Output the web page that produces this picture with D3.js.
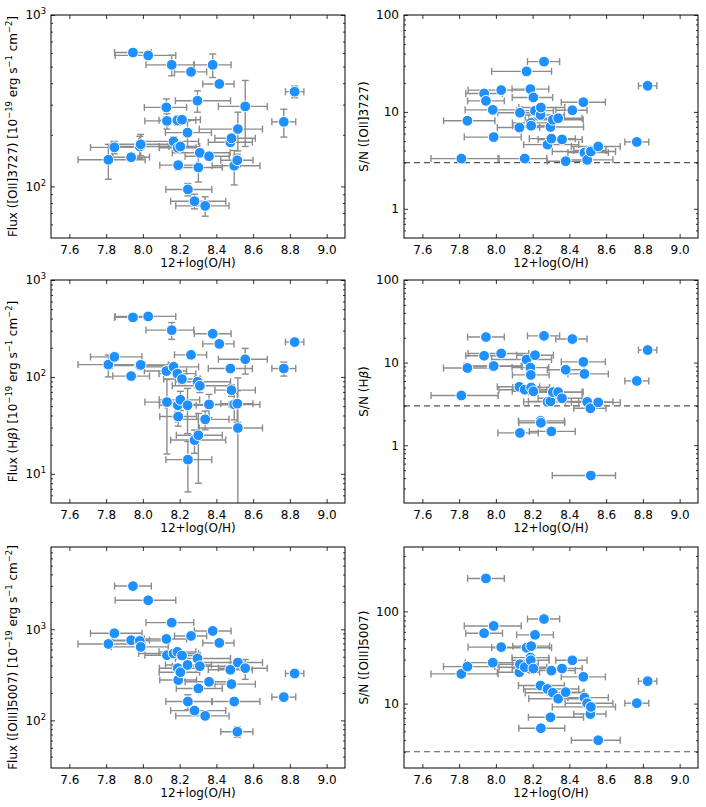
<!DOCTYPE html>
<html>
<head>
<meta charset="utf-8">
<script src="https://cdn.jsdelivr.net/npm/d3@7"></script>
<style>
  body { margin: 0; background: #fff; }
  text { font-family: "DejaVu Sans", sans-serif; }
</style>
</head>
<body>
<div id="chart"></div>
<script>
const svgWidth = 706
const svgHeight = 807

// 12+log(O/H) of each galaxy, with its lower / upper error
const oh      = [7.812, 7.845, 7.936, 7.946, 7.983, 7.988, 8.029, 8.128, 8.131, 8.157, 8.167, 8.188, 8.190, 8.192, 8.204, 8.213, 8.243, 8.245, 8.262, 8.281, 8.297, 8.302, 8.310, 8.339, 8.360, 8.380, 8.416, 8.476, 8.482, 8.497, 8.514, 8.517, 8.557, 8.767, 8.826]
const ohErrLo = [0.165, 0.13, 0.10, 0.10, 0.15, 0.16, 0.18, 0.12, 0.12, 0.14, 0.19, 0.10, 0.10, 0.10, 0.115, 0.10, 0.12, 0.12, 0.09, 0.13, 0.12, 0.12, 0.15, 0.16, 0.13, 0.10, 0.09, 0.12, 0.09, 0.12, 0.09, 0.21, 0.146, 0.065, 0.05]
const ohErrHi = [0.20, 0.15, 0.10, 0.10, 0.16, 0.15, 0.15, 0.11, 0.10, 0.12, 0.136, 0.10, 0.10, 0.10, 0.105, 0.10, 0.13, 0.13, 0.085, 0.17, 0.18, 0.13, 0.165, 0.13, 0.11, 0.10, 0.08, 0.12, 0.13, 0.14, 0.085, 0.134, 0.12, 0.065, 0.05]

// [OII]3727
const fluxOII    = [143, 169, 148, 604, 171, 176, 581, 289, 241, 512, 183, 243, 168, 133, 171, 245, 206, 96, 466, 82, 316, 129, 157, 77, 150, 512, 396, 181, 191, 132, 142, 216, 293, 238, 357]
const fluxOIIErr = [33, 14, 8, 20, 25, 25, 30, 35, 25, 70, 12, 15, 10, 8, 10, 12, 35, 8, 15, 8, 45, 23, 8, 10, 8, 80, 15, 10, 10, 30, 12, 55, 122, 44, 28]
const snOII      = [3.3, 8.1, 15.5, 13.0, 10.5, 5.5, 16.8, 6.9, 9.8, 3.3, 26.2, 17.2, 7.7, 7.2, 14.1, 10.3, 9.3, 11.1, 33, 4.6, 7.0, 5.3, 8.3, 8.6, 5.2, 3.1, 10.4, 12.6, 3.8, 3.2, 4.0, 3.9, 4.4, 4.9, 18.6]

// Hbeta
const fluxHb    = [134, 161, 102, 411, 131, 133, 421, 115, 55, 304, 127, 108, 51, 39, 58, 95, 51, 14, 169, 22.3, 89, 25, 81, 36.5, 52, 279, 219, 122, 73, 52, 53, 29.7, 152, 122, 229]
const fluxHbErr = [34, 8, 5, 15, 10, 10, 15, 10, 39, 60, 10, 10, 7, 8, 13, 10, 25, 7.5, 8, 6, 12, 17, 12, 8, 14, 20, 10, 10, 10, 16, 19, 68, 45, 20, 12]
const snHb      = [4.0, 8.6, 12.1, 20.4, 9.0, 9.1, 12.9, 5.1, 1.41, 4.7, 10.9, 8.7, 7.1, 5.0, 4.5, 12.3, 1.97, 1.87, 21.1, 3.35, 3.4, 1.47, 4.4, 4.4, 3.7, 8.2, 19.3, 10.2, 7.3, 3.35, 2.8, 0.43, 3.3, 6.0, 14.2]

// [OIII]5007
const fluxOIII    = [690, 904, 758, 2980, 745, 641, 2080, 783, 519, 1183, 542, 565, 374, 277, 338, 515, 406, 161, 845, 128, 478, 224, 393, 112, 265, 959, 708, 359, 250, 161, 75, 431, 374, 180, 327]
const fluxOIIIErr = [33, 36, 13, 13, 27, 9, 51, 36, 19, 48, 13, 18, 13, 7, 14, 9, 26, 30, 10, 9, 67, 10, 30, 10, 11, 72, 24, 18, 22, 16, 10, 47, 92, 18, 19]
const snOIII      = [21, 25.2, 58, 228, 27.8, 69.5, 41, 21.9, 26.7, 24.8, 40.4, 31.5, 29.5, 42, 24, 55.7, 15.7, 5.4, 82.7, 14.4, 7.1, 22.8, 13.1, 11.3, 24, 13.3, 29.5, 19.5, 11.6, 10.1, 7.7, 9.2, 4.0, 10.1, 17.5]

// axis ticks and labels
const xTicks = [7.6, 7.8, 8.0, 8.2, 8.4, 8.6, 8.8, 9.0]
const xLabel = "12+log(O/H)"
const fluxUnit = "[10^{\u221219} erg s^{\u22121} cm^{\u22122}]"
const snLimit = 3

// six panels, row by row
const panels = [
  { y: fluxOII,  err: fluxOIIErr,  domain: [50, 1000],  major: [100, 1000],       pow: true,  label: "Flux ([OII]3727) " + fluxUnit },
  { y: snOII,    err: null,        domain: [0.5, 100],  major: [1, 10, 100],      pow: false, label: "S/N ([OII]3727)" },
  { y: fluxHb,   err: fluxHbErr,   domain: [5, 1000],   major: [10, 100, 1000],   pow: true,  label: "Flux (H$\u03b2$)  " + fluxUnit },
  { y: snHb,     err: null,        domain: [0.2, 100],  major: [1, 10, 100],      pow: false, label: "S/N (H$\u03b2$)" },
  { y: fluxOIII, err: fluxOIIIErr, domain: [30, 8000],  major: [100, 1000],       pow: true,  label: "Flux ([OIII]5007) " + fluxUnit },
  { y: snOIII,   err: null,        domain: [2, 500],    major: [10, 100],         pow: false, label: "S/N ([OIII]5007)" }
]

const colX = [51, 404]
const rowY = [15, 280, 547]
const plotW = 294
const plotH = [223, 223, 221]
const labelX = [17, 368]

const pointColor = "#1e90ff"
const errColor = "#8c8c8c"

let svg = d3
  .select("#chart")
  .append("svg")
  .attr("width", svgWidth)
  .attr("height", svgHeight)

// writes "a^{b}" as superscript and "$b$" as italic
function richText(sel, str) {
  str.split(/(\^\{[^}]*\}|\$[^$]*\$)/).filter(s => s.length).forEach(p => {
    if (p.startsWith("^{")) {
      sel.append("tspan").attr("baseline-shift", "super").attr("font-size", "0.7em").text(p.slice(2, -1))
    } else if (p.startsWith("$")) {
      sel.append("tspan").attr("font-style", "italic").text(p.slice(1, -1))
    } else {
      sel.append("tspan").text(p)
    }
  })
}

function styleAxis(g) {
  g.select(".domain").remove()
  g.selectAll("line").attr("stroke", "#000").attr("stroke-width", 0.8)
  g.attr("font-family", "DejaVu Sans, sans-serif").attr("font-size", 12)
  g.selectAll("text").attr("fill", "#000")
}

panels.forEach((p, i) => {
  let col = i % 2
  let row = Math.floor(i / 2)
  let h = plotH[row]

  let chartGroup = svg.append("g")
    .attr("transform", `translate(${colX[col]}, ${rowY[row]})`)

  let x = d3.scaleLinear().domain([7.5, 9.1]).range([0, plotW])
  let y = d3.scaleLog().domain(p.domain).range([h, 0])

  // minor log ticks 2..9 per decade
  let minor = []
  for (let e = Math.floor(Math.log10(p.domain[0])); e <= Math.ceil(Math.log10(p.domain[1])); e++) {
    for (let m = 2; m <= 9; m++) {
      let v = m * Math.pow(10, e)
      if (v > p.domain[0] * 1.001 && v < p.domain[1] * 0.999) minor.push(v)
    }
  }

  // clip so long error bars stop at the frame
  let clipId = "clip" + i
  chartGroup.append("clipPath").attr("id", clipId)
    .append("rect").attr("width", plotW).attr("height", h)

  let plotArea = chartGroup.append("g").attr("clip-path", `url(#${clipId})`)

  if (!p.pow) {
    plotArea.append("line")
      .attr("x1", 0).attr("x2", plotW)
      .attr("y1", y(snLimit)).attr("y2", y(snLimit))
      .attr("stroke", "#555").attr("stroke-width", 1.2)
      .attr("stroke-dasharray", "6,4")
  }

  let idx = d3.range(oh.length)
  let cap = 3.5
  let yPos = v => v <= p.domain[0] * 0.1 ? h + 20 : y(v)

  let bars = plotArea.append("g")
    .attr("stroke", errColor).attr("stroke-width", 1.4).attr("fill", "none")

  // horizontal error bars (all panels)
  idx.forEach(k => {
    let cy = y(p.y[k])
    let x1 = x(oh[k] - ohErrLo[k])
    let x2 = x(oh[k] + ohErrHi[k])
    bars.append("line").attr("x1", x1).attr("x2", x2).attr("y1", cy).attr("y2", cy)
    bars.append("line").attr("x1", x1).attr("x2", x1).attr("y1", cy - cap).attr("y2", cy + cap)
    bars.append("line").attr("x1", x2).attr("x2", x2).attr("y1", cy - cap).attr("y2", cy + cap)
  })

  // vertical error bars (flux panels)
  if (p.err) {
    idx.forEach(k => {
      let cx = x(oh[k])
      let y1 = y(p.y[k] + p.err[k])
      let y2 = yPos(p.y[k] - p.err[k])
      bars.append("line").attr("x1", cx).attr("x2", cx).attr("y1", y1).attr("y2", y2)
      bars.append("line").attr("x1", cx - cap).attr("x2", cx + cap).attr("y1", y1).attr("y2", y1)
      bars.append("line").attr("x1", cx - cap).attr("x2", cx + cap).attr("y1", y2).attr("y2", y2)
    })
  }

  plotArea.append("g")
    .selectAll("circle")
    .data(idx)
    .enter()
    .append("circle")
    .attr("cx", k => x(oh[k]))
    .attr("cy", k => y(p.y[k]))
    .attr("r", 5.4)
    .attr("fill", pointColor)
    .attr("stroke", "#fff")
    .attr("stroke-width", 1)

  // ticks on all four sides, pointing inward
  let leftAxis = chartGroup.append("g")
    .call(d3.axisLeft(y).tickValues(p.major).tickSize(-4).tickPadding(5).tickFormat(""))
    .call(styleAxis)
  leftAxis.selectAll(".tick text").each(function(d) {
    let t = d3.select(this)
    if (p.pow) richText(t, "10^{" + Math.round(Math.log10(d)) + "}")
    else t.text(d3.format("d")(d))
  })
  chartGroup.append("g")
    .call(d3.axisLeft(y).tickValues(minor).tickSize(-2).tickFormat(""))
    .call(styleAxis)
  chartGroup.append("g")
    .attr("transform", `translate(${plotW}, 0)`)
    .call(d3.axisRight(y).tickValues(p.major).tickSize(-4).tickFormat(""))
    .call(styleAxis)
  chartGroup.append("g")
    .attr("transform", `translate(${plotW}, 0)`)
    .call(d3.axisRight(y).tickValues(minor).tickSize(-2).tickFormat(""))
    .call(styleAxis)
  chartGroup.append("g")
    .attr("transform", `translate(0, ${h})`)
    .call(d3.axisBottom(x).tickValues(xTicks).tickSize(-4).tickPadding(7).tickFormat(d3.format(".1f")))
    .call(styleAxis)
  chartGroup.append("g")
    .call(d3.axisTop(x).tickValues(xTicks).tickSize(-4).tickFormat(""))
    .call(styleAxis)

  chartGroup.append("rect")
    .attr("width", plotW).attr("height", h)
    .attr("fill", "none").attr("stroke", "#000").attr("stroke-width", 1)

  chartGroup.append("text")
    .attr("x", plotW / 2)
    .attr("y", h + 29)
    .attr("text-anchor", "middle")
    .attr("font-size", 12)
    .text(xLabel)

  let yl = chartGroup.append("text")
    .attr("transform", `translate(${labelX[col] - colX[col]}, ${h / 2}) rotate(-90)`)
    .attr("text-anchor", "middle")
    .attr("font-size", 12)
  richText(yl, p.label)
})
</script>
</body>
</html>
